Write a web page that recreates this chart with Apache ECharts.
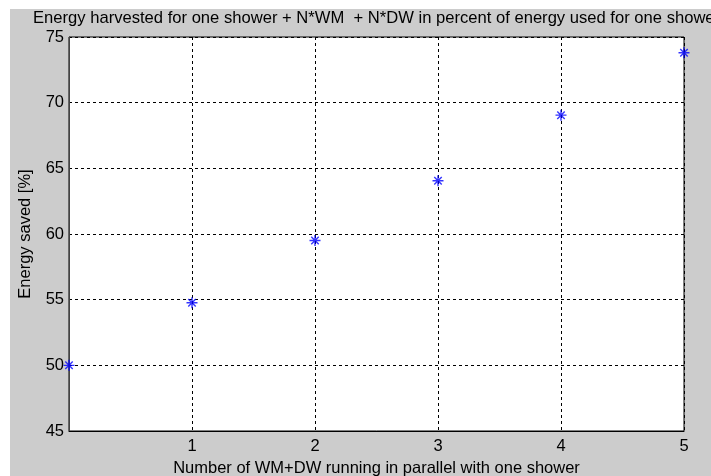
<!DOCTYPE html>
<html>
<head>
  <meta charset="utf-8">
</head>
<body style="margin: 0; background: #fff">
  <div id="container" style="width: 711px; height: 476px"></div>
  <script src="https://cdn.jsdelivr.net/npm/echarts@6/dist/echarts.min.js"></script>
  <script>
    // number of WM+DW loads in parallel with one shower
    var parallelCount = [0, 1, 2, 3, 4, 5];
    // energy saved [%]
    var energySaved = [50, 54.77, 59.5, 64.05, 69.05, 73.8];
    var xTicks = [1, 2, 3, 4, 5];

    var chart = echarts.init(document.getElementById('container'), null, { renderer: 'canvas' });
    var font = 'Arial, "Liberation Sans", sans-serif';

    var option = {
      backgroundColor: '#ffffff',
      animation: false,
      graphic: [{
        type: 'rect',
        z: -10,
        shape: { x: 10, y: 9, width: 701, height: 467 },
        style: { fill: '#cccccc' }
      }],
      title: {
        text: 'Energy harvested for one shower + N*WM  + N*DW in percent of energy used for one shower',
        left: 33,
        top: 10,
        padding: [0, 0, 0, 0],
        textStyle: { fontFamily: font, fontSize: 16.6, fontWeight: 'normal', color: '#000' }
      },
      grid: {
        left: 69, right: 27, top: 37, bottom: 45,
        outerBoundsMode: 'none',
        containLabel: false,
        show: true,
        backgroundColor: '#ffffff',
        borderColor: '#000',
        borderWidth: 1
      },
      xAxis: {
        type: 'value',
        min: 0, max: 5, interval: 1,
        name: 'Number of WM+DW running in parallel with one shower',
        nameLocation: 'middle',
        nameGap: 27,
        nameTextStyle: { fontFamily: font, fontSize: 16.5, color: '#000' },
        axisLine: { lineStyle: { color: '#000' } },
        axisTick: { show: false },
        axisLabel: {
          fontFamily: font, fontSize: 16.5, color: '#000', margin: 7,
          formatter: function (v) { return xTicks.indexOf(v) >= 0 ? String(v) : ''; }
        },
        splitLine: { show: true, lineStyle: { color: '#000', type: [3, 3], width: 1 } }
      },
      yAxis: {
        type: 'value',
        min: 45, max: 75, interval: 5,
        name: 'Energy saved [%]',
        nameLocation: 'middle',
        nameGap: 35,
        nameTextStyle: { fontFamily: font, fontSize: 16.5, color: '#000' },
        axisLine: { show: true, lineStyle: { color: '#444' } },
        axisTick: { show: false },
        axisLabel: { fontFamily: font, fontSize: 16.5, color: '#000', margin: 5 },
        splitLine: { show: true, lineStyle: { color: '#000', type: [3, 3], width: 1 } }
      },
      series: [{
        type: 'scatter',
        clip: false,
        data: parallelCount.map(function (n, i) { return [n, energySaved[i]]; }),
        symbol: 'path://M5 0 L5 10 M0 5 L10 5 M1.6 1.6 L8.4 8.4 M8.4 1.6 L1.6 8.4',
        symbolSize: 11,
        itemStyle: { color: '#0000ff', borderColor: '#0000ff', borderWidth: 1.4 }
      }]
    };

    chart.setOption(option);
  </script>
</body>
</html>
